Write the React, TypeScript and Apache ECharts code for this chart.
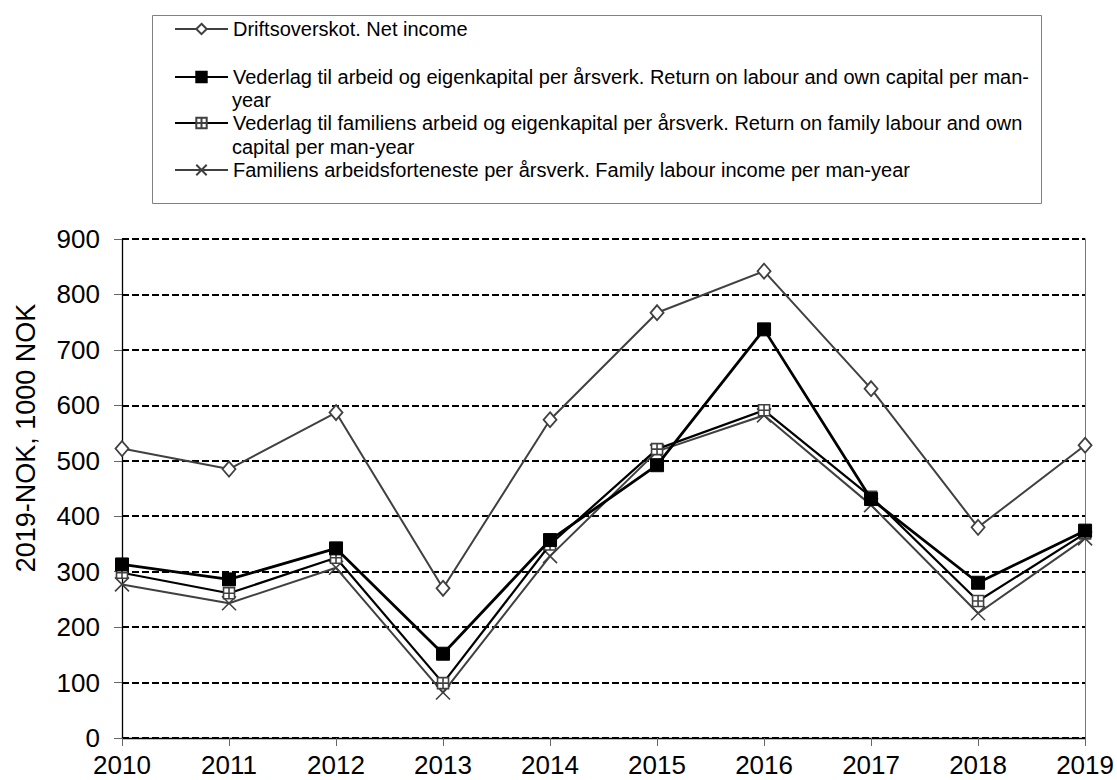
import React, { useEffect, useRef } from "react";
import * as echarts from "echarts";

const years = ["2010", "2011", "2012", "2013", "2014", "2015", "2016", "2017", "2018", "2019"];
const netIncome = [522, 485, 587, 270, 574, 767, 842, 630, 380, 528];
const returnLabourCapital = [313, 286, 342, 152, 357, 492, 737, 431, 280, 374];
const returnFamilyLabourCapital = [298, 261, 325, 99, 349, 521, 591, 435, 247, 369];
const familyLabourIncome = [277, 243, 307, 82, 328, 517, 582, 420, 225, 360];

const names = [
  "Driftsoverskot. Net income",
  "Vederlag til arbeid og eigenkapital per årsverk. Return on labour and own capital per man-year",
  "Vederlag til familiens arbeid og eigenkapital per årsverk. Return on family labour and own capital per man-year",
  "Familiens arbeidsforteneste per årsverk. Family labour income per man-year",
];
const firstLines = [
  "Driftsoverskot. Net income",
  "Vederlag til arbeid og eigenkapital per årsverk. Return on labour and own capital per man-",
  "Vederlag til familiens arbeid og eigenkapital per årsverk. Return on family labour and own",
  "Familiens arbeidsforteneste per årsverk. Family labour income per man-year",
];
const secondLines = ["", "year", "capital per man-year", ""];
const yAxisTitle = "2019-NOK, 1000 NOK";

const FONT = "'Liberation Sans', Arial, sans-serif";

export default function App() {
  const ref = useRef<HTMLDivElement>(null);
  useEffect(() => {
    if (!ref.current) return;
    const chart = echarts.init(ref.current, null, { renderer: "svg" });
    const legendFont = 20;
    const legendRows = [29, 77, 123, 170];
    const contRows = [0, 100, 147, 0];
    const legends = names.map((n, i) => ({
      orient: "vertical",
      left: 174,
      top: legendRows[i] - 11,
      padding: 0,
      itemWidth: 53,
      itemHeight: 13,
      data: [n],
      formatter: () => firstLines[i],
      textStyle: { fontFamily: FONT, fontSize: legendFont, lineHeight: 22, color: "#000" },
      selectedMode: false,
    }));
    const graphics: any[] = [
      {
        type: "rect",
        shape: { x: 152.5, y: 15.5, width: 889, height: 188 },
        style: { fill: "none", stroke: "#808080", lineWidth: 1 },
        z: 0,
      },
      {
        type: "text",
        x: 26,
        y: 438,
        rotation: Math.PI / 2,
        style: {
          text: yAxisTitle,
          fontFamily: FONT,
          fontSize: 27,
          fill: "#000",
          align: "center",
          verticalAlign: "middle",
        },
      },
    ];
    secondLines.forEach((t, i) => {
      if (!t) return;
      graphics.push({
        type: "text",
        x: 232,
        y: contRows[i],
        style: {
          text: t,
          fontFamily: FONT,
          fontSize: legendFont,
          fill: "#000",
          verticalAlign: "middle",
        },
      });
    });
    const option: any = {
      animation: false,
      backgroundColor: "#fff",
      textStyle: { fontFamily: FONT },
      legend: legends,
      graphic: graphics,
      grid: { left: 122, right: 31, top: 239, bottom: 42, containLabel: false },
      xAxis: {
        type: "category",
        data: years,
        boundaryGap: false,
        axisLine: { lineStyle: { color: "#000", width: 1.3 } },
        axisTick: { show: true, length: 8, lineStyle: { color: "#666" } },
        axisLabel: { fontFamily: FONT, fontSize: 26, color: "#000", margin: 14 },
        splitLine: { show: false },
      },
      yAxis: [
        {
          type: "value",
          min: 0,
          max: 900,
          interval: 100,
          axisLine: { show: true, lineStyle: { color: "#000", width: 1.3 } },
          axisTick: { show: true, length: 8, lineStyle: { color: "#666" } },
          axisLabel: { fontFamily: FONT, fontSize: 26, color: "#000", margin: 22 },
          splitLine: { show: true, lineStyle: { color: "#000", width: 2, type: [7, 3] } },
        },
        {
          type: "value",
          min: 0,
          max: 900,
          interval: 100,
          position: "right",
          axisLine: { show: true, lineStyle: { color: "#777", width: 1 } },
          axisTick: { show: false },
          axisLabel: { show: false },
          splitLine: { show: false },
        },
      ],
      series: [
        {
          name: names[0],
          type: "line",
          data: netIncome,
          symbol: "diamond",
          symbolSize: [13, 15],
          showAllSymbol: true,
          lineStyle: { color: "#404040", width: 2 },
          itemStyle: { color: "#fff", borderColor: "#404040", borderWidth: 1.8 },
          z: 2,
        },
        {
          name: names[3],
          type: "line",
          data: familyLabourIncome,
          symbol: "path://M0,0L10,10M10,0L0,10",
          symbolSize: 14,
          showAllSymbol: true,
          lineStyle: { color: "#404040", width: 2 },
          itemStyle: { color: "none", borderColor: "#404040", borderWidth: 1.6 },
          z: 3,
        },
        {
          name: names[2],
          type: "line",
          data: returnFamilyLabourCapital,
          symbol: "path://M0,0H10V10H0ZM5,0V10M0,5H10",
          symbolSize: 11,
          showAllSymbol: true,
          lineStyle: { color: "#000", width: 2.2 },
          itemStyle: { color: "#fff", borderColor: "#404040", borderWidth: 1.6 },
          z: 4,
        },
        {
          name: names[1],
          type: "line",
          data: returnLabourCapital,
          symbol: "rect",
          symbolSize: 13,
          showAllSymbol: true,
          lineStyle: { color: "#000", width: 2.8 },
          itemStyle: { color: "#000", borderColor: "#000", borderWidth: 1 },
          z: 5,
        },
      ],
    };
    chart.setOption(option);
    return () => chart.dispose();
  }, []);
  return <div ref={ref} style={{ width: 1117, height: 780, position: "absolute", left: 0, top: 0 }} />;
}
